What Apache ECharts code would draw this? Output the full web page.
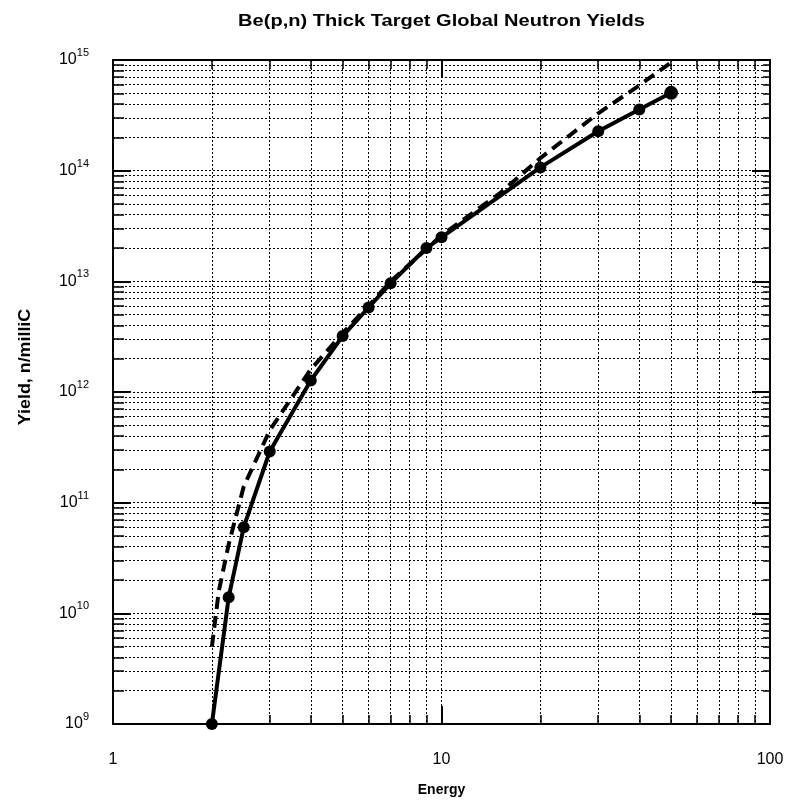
<!DOCTYPE html>
<html>
<head>
<meta charset="utf-8">
<script src="https://cdn.jsdelivr.net/npm/echarts@6/dist/echarts.min.js"></script>
<style>
  html, body { margin: 0; padding: 0; background: #fff; }
  #main { width: 792px; height: 802px; }
</style>
</head>
<body>
<div id="main"></div>
<script>
// measured yields (solid line with dots)
const energy = [2, 2.25, 2.5, 3, 4, 5, 6, 7, 9, 10, 20, 30, 40, 50]
const yieldMeasured = [1e9, 1.4e10, 6e10, 2.9e11, 1.27e12, 3.2e12, 5.8e12, 9.6e12, 2.0e13, 2.5e13, 1.07e14, 2.27e14, 3.57e14, 5.05e14]
// second curve (dashed, no dots)
const energyDashed = [2, 2.1, 2.25, 2.5, 3, 4, 5, 6, 7, 10, 15, 20, 30, 40, 50]
const yieldDashed = [5e9, 1.6e10, 4.2e10, 1.4e11, 4.5e11, 1.6e12, 3.4e12, 6e12, 1e13, 2.6e13, 6.2e13, 1.3e14, 3.3e14, 5.9e14, 9.5e14]

const titleText = 'Be(p,n) Thick Target Global Neutron Yields'
const xName = 'Energy'
const yName = 'Yield, n/milliC'

const font = 'Liberation Sans'
const dotted = { show: true, lineStyle: { color: '#000', width: 1, type: [2, 2] } }
const frame = { show: true, onZero: false, lineStyle: { color: '#000', width: 2 } }

function xAxis (pos, main) {
  return {
    type: 'log',
    logBase: 10,
    min: 1,
    max: 100,
    position: pos,
    axisLine: frame,
    axisTick: { show: true, inside: true, length: 18, lineStyle: { color: '#000', width: 2 } },
    minorTick: { show: true, splitNumber: 9, length: 9, lineStyle: { color: '#000', width: 1.5 } },
    splitLine: main ? dotted : { show: false },
    minorSplitLine: main ? dotted : { show: false },
    axisLabel: { show: main, fontSize: 16, color: '#000', margin: 28, fontFamily: font },
    name: main ? xName : '',
    nameLocation: 'middle',
    nameGap: 59,
    nameTextStyle: { fontSize: 14, fontWeight: 'bold', color: '#000', fontFamily: font }
  }
}

function yAxis (pos, main) {
  return {
    type: 'log',
    logBase: 10,
    min: 1e9,
    max: 1e15,
    position: pos,
    axisLine: frame,
    axisTick: { show: true, inside: true, length: 18, lineStyle: { color: '#000', width: 2 } },
    minorTick: { show: true, splitNumber: 9, length: main ? 11 : 7, lineStyle: { color: '#000', width: 1.5 } },
    splitLine: main ? dotted : { show: false },
    minorSplitLine: main ? dotted : { show: false },
    axisLabel: {
      show: main,
      margin: 24,
      color: '#000',
      fontFamily: font,
      formatter: function (v) {
        return '{b|10}{s|' + Math.round(Math.log10(v)) + '}'
      },
      rich: {
        b: { fontSize: 16, lineHeight: 16, verticalAlign: 'middle', fontFamily: font, color: '#000' },
        s: { fontSize: 11, lineHeight: 11, verticalAlign: 'middle', padding: [0, 0, 14, 0], fontFamily: font, color: '#000' }
      }
    }
  }
}

let myChart = echarts.init(document.getElementById('main'))
let option = {
  animation: false,
  backgroundColor: '#fff',
  textStyle: { fontFamily: font },
  grid: { left: 113, right: 22, top: 60, bottom: 78 },
  graphic: [
    {
      type: 'text',
      x: 441.5,
      y: 21,
      scaleX: 1.18,
      style: {
        text: titleText,
        fill: '#000',
        fontSize: 17,
        fontWeight: 'bold',
        fontFamily: font,
        align: 'center',
        verticalAlign: 'middle',
        textAlign: 'center',
        textVerticalAlign: 'middle'
      }
    },
    {
      type: 'text',
      x: 25,
      y: 367,
      rotation: Math.PI / 2,
      scaleX: 1.05,
      style: {
        text: yName,
        fill: '#000',
        fontSize: 17,
        fontWeight: 'bold',
        fontFamily: font,
        align: 'center',
        verticalAlign: 'middle',
        textAlign: 'center',
        textVerticalAlign: 'middle'
      }
    }
  ],
  xAxis: [xAxis('bottom', true), xAxis('top', false)],
  yAxis: [yAxis('left', true), yAxis('right', false)],
  series: [
    {
      name: 'dashed',
      type: 'line',
      xAxisIndex: 0,
      yAxisIndex: 0,
      symbol: 'none',
      data: energyDashed.map((e, i) => [e, yieldDashed[i]]),
      lineStyle: { color: '#000', width: 4, type: [12, 7] },
      z: 3
    },
    {
      name: 'measured',
      type: 'line',
      xAxisIndex: 0,
      yAxisIndex: 0,
      symbol: 'circle',
      symbolSize: function (v, p) {
        return p.dataIndex === energy.length - 1 ? 14 : 12
      },
      data: energy.map((e, i) => [e, yieldMeasured[i]]),
      lineStyle: { color: '#000', width: 4 },
      itemStyle: { color: '#000' },
      z: 4
    }
  ]
}
myChart.setOption(option)
</script>
</body>
</html>
